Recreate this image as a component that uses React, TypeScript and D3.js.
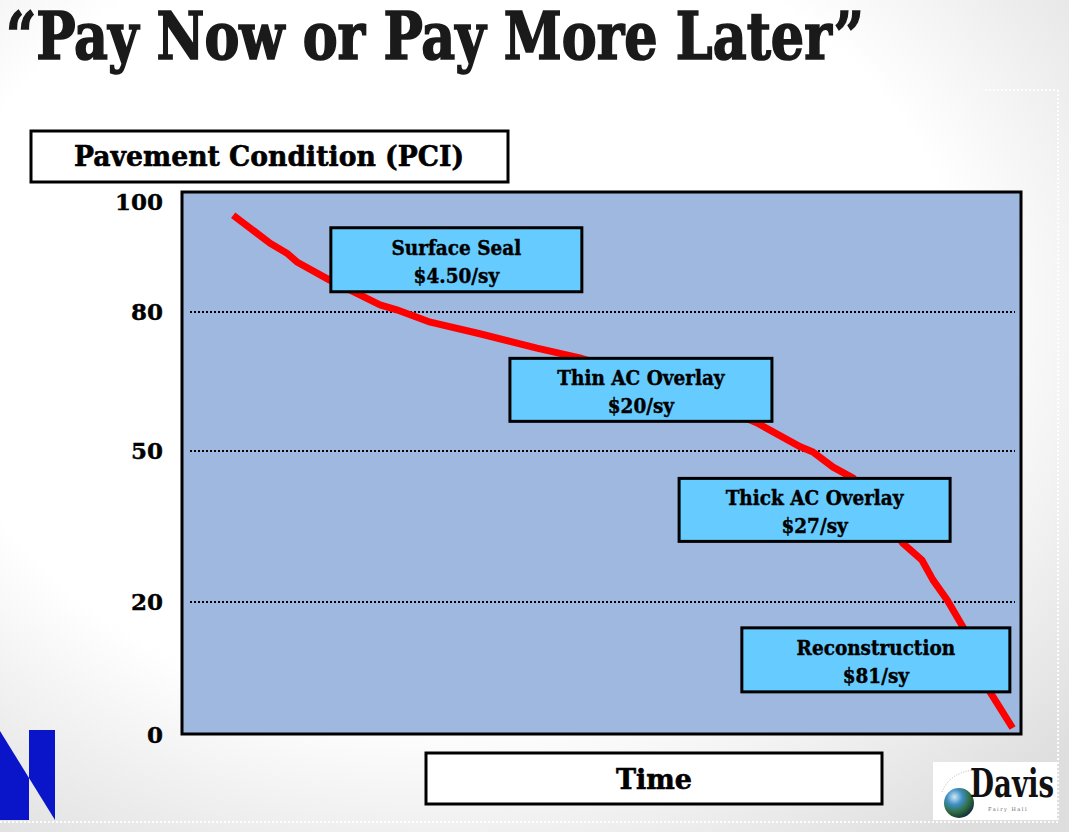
import React from "react";
import * as d3 from "d3";

// ---------- data ----------
const timeValues = [6.1, 10.5, 12.5, 13.7, 17.6, 21.2, 23.6, 25.6, 29.6, 35.5, 42.3, 47.4, 59.4, 68.5, 73.7, 75.2, 77.6, 80.0, 83.2, 85.9, 88.2, 89.5, 91.2, 93.1, 96.3, 99.0];
const pciValues = [97.6, 92.5, 90.7, 89.1, 85.8, 83.1, 81.3, 80.4, 77.8, 75.3, 72.2, 70.1, 63.2, 56.1, 50.9, 49.8, 46.8, 44.6, 38.7, 31.7, 28.3, 24.4, 20.4, 16.2, 6.5, 1.05];
const yTickValues = [0, 20, 50, 80, 100];
const gridValues = [20, 50, 80];
const treatments = ["Surface Seal", "Thin AC Overlay", "Thick AC Overlay", "Reconstruction"];
const costs = ["$4.50/sy", "$20/sy", "$27/sy", "$81/sy"];

const TITLE = "\u201CPay Now or Pay More Later\u201D";
const Y_TITLE = "Pavement Condition (PCI)";
const X_TITLE = "Time";

// ---------- layout ----------
const W = 1069;
const H = 832;
const plot = { left: 182, right: 1021, top: 192, bottom: 734 };
const yRange = [735, 602, 451, 312, 202];
const boxLayout = [
  { t: 32.7, p: 89.5, w: 251, h: 64 },
  { t: 54.7, p: 63.2, w: 262, h: 63 },
  { t: 75.4, p: 38.3, w: 271, h: 63 },
  { t: 82.7, p: 11.3, w: 268, h: 64 },
];
const serif = "'DejaVu Serif', serif";
const serifC = "'DejaVu Serif Condensed', 'DejaVu Serif', serif";

export default function App() {
  const x = d3.scaleLinear().domain([0, 100]).range([plot.left, plot.right]);
  const y = d3.scaleLinear().domain(yTickValues).range(yRange);
  const pts = timeValues.map((t, i) => [t, pciValues[i]] as [number, number]);
  const line = d3
    .line<[number, number]>()
    .x((d) => x(d[0]))
    .y((d) => y(d[1]))
    .curve(d3.curveLinear);

  return (
    <svg
      width={W}
      height={H}
      viewBox={`0 0 ${W} ${H}`}
      style={{ position: "absolute", left: 0, top: 0, display: "block" }}
    >
      <defs>
        <radialGradient id="bg" cx="42%" cy="38%" r="78%">
          <stop offset="0%" stopColor="#ffffff" />
          <stop offset="62%" stopColor="#ffffff" />
          <stop offset="100%" stopColor="#dedede" />
        </radialGradient>
        <radialGradient id="globe" cx="35%" cy="30%" r="75%">
          <stop offset="0%" stopColor="#cfe8f5" />
          <stop offset="35%" stopColor="#3d8fc4" />
          <stop offset="70%" stopColor="#2f6a3a" />
          <stop offset="100%" stopColor="#0d2a40" />
        </radialGradient>
      </defs>
      <rect x={0} y={0} width={W} height={H} fill="url(#bg)" />
      {/* faint dotted frame */}
      <g stroke="#ffffff" strokeWidth={2} strokeDasharray="2 2" fill="none" opacity={0.9}>
        <line x1={985} y1={90} x2={1058} y2={90} />
        <line x1={1058} y1={90} x2={1058} y2={822} />
        <line x1={0} y1={822} x2={1058} y2={822} />
      </g>

      {/* title */}
      <text
        x={6}
        y={59}
        fontFamily={serifC}
        fontWeight="bold"
        fontSize={65}
        fill="#1a1a1a"
        stroke="#1a1a1a"
        strokeWidth={1.6}
        textLength={858}
        lengthAdjust="spacingAndGlyphs"
      >
        {TITLE}
      </text>

      {/* y title box */}
      <rect x={31} y={131} width={477} height={51} fill="#fff" stroke="#000" strokeWidth={3} />
      <text x={269} y={166} textAnchor="middle" fontFamily={serif} fontWeight="bold" fontSize={28} stroke="#000" strokeWidth={0.6} textLength={390} lengthAdjust="spacingAndGlyphs">
        {Y_TITLE}
      </text>

      {/* plot area */}
      <rect
        x={plot.left}
        y={plot.top}
        width={plot.right - plot.left}
        height={plot.bottom - plot.top}
        fill="#9fb8e0"
        stroke="#000"
        strokeWidth={3}
      />
      {gridValues.map((v) => (
        <line
          key={v}
          x1={plot.left + 8}
          x2={plot.right - 6}
          y1={y(v)}
          y2={y(v)}
          stroke="#000"
          strokeWidth={2}
          strokeDasharray="2 2"
        />
      ))}
      {yTickValues.map((v) => (
        <text
          key={v}
          x={163}
          y={y(v)}
          dy="0.36em"
          textAnchor="end"
          fontFamily={serif}
          fontWeight="bold"
          fontSize={23}
          stroke="#000"
          strokeWidth={0.4}
          fill="#000"
        >
          {v}
        </text>
      ))}

      {/* curve */}
      <path d={line(pts) || ""} fill="none" stroke="#ff0000" strokeWidth={7} strokeLinejoin="round" strokeLinecap="butt" />

      {/* treatment boxes */}
      {treatments.map((name, i) => {
        const b = boxLayout[i];
        const cx = x(b.t);
        const cy = y(b.p);
        return (
          <g key={name}>
            <rect x={cx - b.w / 2} y={cy - b.h / 2} width={b.w} height={b.h} fill="#66ccff" stroke="#000" strokeWidth={3} />
            <text x={cx} y={cy - 5} textAnchor="middle" fontFamily={serifC} fontWeight="bold" fontSize={20.5} stroke="#000" strokeWidth={0.4} fill="#000">
              {name}
            </text>
            <text x={cx} y={cy + 23} textAnchor="middle" fontFamily={serifC} fontWeight="bold" fontSize={20.5} stroke="#000" strokeWidth={0.4} fill="#000">
              {costs[i]}
            </text>
          </g>
        );
      })}

      {/* x title box */}
      <rect x={426} y={753} width={456} height={51} fill="#fff" stroke="#000" strokeWidth={3} />
      <text x={654} y={789} textAnchor="middle" fontFamily={serif} fontWeight="bold" fontSize={28} stroke="#000" strokeWidth={0.6} textLength={76} lengthAdjust="spacingAndGlyphs">
        {X_TITLE}
      </text>

      {/* N logo */}
      <polygon points="0,731 29,778 29,820 0,820" fill="#0a14c8" />
      <polygon points="29,730 55,730 55,820 29,778" fill="#0a14c8" />

      {/* Davis logo */}
      <rect x={933} y={762} width={124} height={58} fill="#ffffff" />
      <path d="M942,792 Q950,772 975,770" fill="none" stroke="#9aa" strokeWidth={0.8} strokeDasharray="1 1.5" />
      <circle cx={959} cy={803} r={15} fill="url(#globe)" />
      <text x={970} y={797} fontFamily={serifC} fontWeight="bold" fontSize={39} fill="#111" textLength={84} lengthAdjust="spacingAndGlyphs">
        Davis
      </text>
      <text x={988} y={811} fontFamily={serif} fontSize={5} fill="#666" letterSpacing={1.5}>
        Fairy Hall
      </text>
    </svg>
  );
}
